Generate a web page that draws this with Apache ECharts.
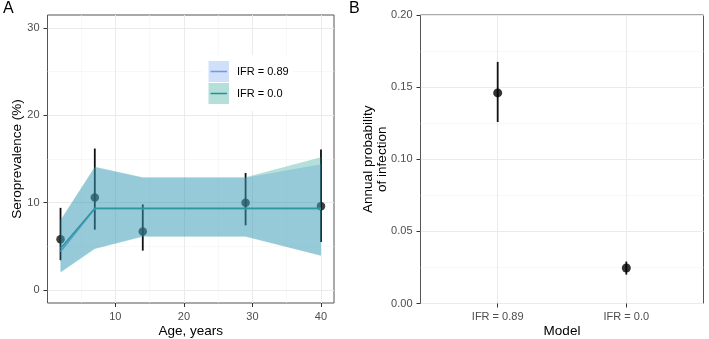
<!DOCTYPE html>
<html>
<head>
<meta charset="utf-8">
<script src="https://cdn.jsdelivr.net/npm/echarts@6/dist/echarts.min.js"></script>
<style>
  html, body { margin: 0; padding: 0; background: #fff; }
  #chart { width: 709px; height: 339px; }
</style>
</head>
<body>
<div id="chart"></div>
<script>
// panel A: observed seroprevalence by age
const ageYears = [2, 7, 14, 29, 40]
const obsPrev = [5.8, 10.6, 6.7, 10.0, 9.6]
const obsLow = [3.4, 6.9, 4.5, 7.4, 5.5]
const obsHigh = [9.4, 16.2, 9.8, 13.4, 16.1]

// model fits
const fit89 = [4.4, 9.3, 9.3, 9.3, 9.3]
const fit89Low = [2.05, 4.75, 6.15, 6.15, 3.95]
const fit89High = [7.95, 14.05, 12.85, 12.85, 14.4]
const fit00 = [4.75, 9.35, 9.35, 9.35, 9.35]
const fit00Low = [2.0, 4.7, 6.1, 6.1, 3.9]
const fit00High = [8.0, 14.1, 12.9, 12.9, 15.2]

const ageTicks = [10, 20, 30, 40]
const ageMinor = [5, 15, 25, 35]
const prevTicks = [0, 10, 20, 30]
const prevMinor = [5, 15, 25]

// panel B: annual probability of infection
const models = ['IFR = 0.89', 'IFR = 0.0']
const annualProb = [0.146, 0.0246]
const probLow = [0.1258, 0.020]
const probHigh = [0.1675, 0.0291]

const FONT = '"Liberation Sans", Arial, sans-serif'
const GRID_MAJOR = '#ebebeb'
const GRID_MINOR = '#f4f4f4'
const BLUE = '#6f9be3'
const TEAL = '#22948a'
const BLUE_FILL = 'rgba(100,149,237,0.3)'
const TEAL_FILL = 'rgba(31,158,147,0.33)'

const chart = echarts.init(document.getElementById('chart'), null, { renderer: 'canvas' })

function bandItem(lo, hi, fill) {
  return function (params, api) {
    if (params.dataIndex !== 0) return null
    const pts = []
    ageYears.forEach((a, i) => pts.push(api.coord([a, lo[i]])))
    for (let i = ageYears.length - 1; i >= 0; i--) pts.push(api.coord([ageYears[i], hi[i]]))
    return { type: 'polygon', shape: { points: pts }, style: { fill: fill } }
  }
}

function errItem(params, api) {
  const x = api.value(0)
  const a = api.coord([x, api.value(1)])
  const b = api.coord([x, api.value(2)])
  return {
    type: 'line',
    shape: { x1: a[0], y1: a[1], x2: b[0], y2: b[1] },
    style: { stroke: '#111', lineWidth: 1.8 }
  }
}

function gridLines(axis, values, color, width) {
  return values.map(v => ({ [axis]: v, lineStyle: { color: color, width: width, type: 'solid' } }))
}

const axisTickStyle = { show: true, length: 4, lineStyle: { color: '#333', width: 1 } }
const hiddenLine = { show: false, onZero: false }
const xLabel = { color: '#4d4d4d', fontSize: 11, fontFamily: FONT, margin: 8 }
const yLabel = { color: '#4d4d4d', fontSize: 11, fontFamily: FONT, margin: 8 }
const nameStyle = { color: '#000', fontSize: 13.5, fontFamily: FONT }

chart.setOption({
  animation: false,
  textStyle: { fontFamily: FONT },
  grid: [
    { left: 47.5, top: 15, width: 286.5, height: 288, outerBoundsMode: 'none', containLabel: false, show: true, borderColor: '#555', borderWidth: 1, backgroundColor: 'transparent' },
    { left: 420.5, top: 15, width: 283, height: 288.5, outerBoundsMode: 'none', containLabel: false, show: true, borderColor: '#555', borderWidth: 1, backgroundColor: 'transparent' }
  ],
  xAxis: [
    {
      gridIndex: 0, type: 'value', min: 0.1, max: 41.9,
      axisLine: hiddenLine, splitLine: { show: false },
      axisTick: Object.assign({ customValues: ageTicks }, axisTickStyle),
      axisLabel: Object.assign({ customValues: ageTicks }, xLabel),
      name: 'Age, years', nameLocation: 'middle', nameGap: 21, nameMoveOverlap: false, nameTextStyle: nameStyle
    },
    {
      gridIndex: 1, type: 'value', min: 0.4, max: 2.6,
      axisLine: hiddenLine, splitLine: { show: false },
      axisTick: Object.assign({ customValues: [1, 2] }, axisTickStyle),
      axisLabel: Object.assign({ customValues: [1, 2], formatter: v => models[Math.round(v) - 1] }, xLabel),
      name: 'Model', nameLocation: 'middle', nameGap: 21, nameMoveOverlap: false, nameTextStyle: nameStyle
    }
  ],
  yAxis: [
    {
      gridIndex: 0, type: 'value', min: -1.5, max: 31.5,
      axisLine: hiddenLine, splitLine: { show: false },
      axisTick: Object.assign({ customValues: prevTicks }, axisTickStyle),
      axisLabel: Object.assign({ customValues: prevTicks }, yLabel),
      name: 'Seroprevalence (%)', nameLocation: 'middle', nameGap: 23, nameMoveOverlap: false, nameTextStyle: nameStyle
    },
    {
      gridIndex: 1, type: 'value', min: 0, max: 0.2, interval: 0.05,
      axisLine: hiddenLine,
      splitLine: { show: true, lineStyle: { color: GRID_MAJOR, width: 1 } },
      minorTick: { show: false, splitNumber: 2 },
      minorSplitLine: { show: true, lineStyle: { color: GRID_MINOR, width: 0.6 } },
      axisTick: axisTickStyle,
      axisLabel: Object.assign({ formatter: v => v.toFixed(2) }, yLabel),
      name: 'Annual probability\nof infection', nameLocation: 'middle', nameGap: 31, nameMoveOverlap: false,
      nameTextStyle: Object.assign({ lineHeight: 14 }, nameStyle)
    }
  ],
  series: [
    // grid lines, panel A
    {
      type: 'line', xAxisIndex: 0, yAxisIndex: 0, data: [], z: 0, silent: true,
      markLine: {
        z: 0, silent: true, symbol: 'none', label: { show: false }, animation: false,
        data: [].concat(
          gridLines('xAxis', ageMinor, GRID_MINOR, 0.6),
          gridLines('yAxis', prevMinor, GRID_MINOR, 0.6),
          gridLines('xAxis', ageTicks, GRID_MAJOR, 1),
          gridLines('yAxis', prevTicks, GRID_MAJOR, 1)
        )
      }
    },
    // grid lines, panel B (x)
    {
      type: 'line', xAxisIndex: 1, yAxisIndex: 1, data: [], z: 0, silent: true,
      markLine: {
        z: 0, silent: true, symbol: 'none', label: { show: false }, animation: false,
        data: gridLines('xAxis', [1, 2], GRID_MAJOR, 1)
      }
    },
    // observed error bars and points
    {
      type: 'custom', xAxisIndex: 0, yAxisIndex: 0, z: 1,
      renderItem: errItem,
      encode: { x: 0, y: [1, 2] },
      data: ageYears.map((a, i) => [a, obsLow[i], obsHigh[i]])
    },
    {
      type: 'scatter', xAxisIndex: 0, yAxisIndex: 0, z: 1,
      symbolSize: 8.5, itemStyle: { color: '#111' },
      data: ageYears.map((a, i) => [a, obsPrev[i]])
    },
    // fitted lines
    {
      type: 'line', name: 'IFR = 0.89', xAxisIndex: 0, yAxisIndex: 0, z: 2,
      showSymbol: false, lineStyle: { color: BLUE, width: 1.5 },
      data: ageYears.map((a, i) => [a, fit89[i]])
    },
    {
      type: 'line', name: 'IFR = 0.0', xAxisIndex: 0, yAxisIndex: 0, z: 2,
      showSymbol: false, lineStyle: { color: TEAL, width: 1.5 },
      data: ageYears.map((a, i) => [a, fit00[i]])
    },
    // credible bands
    {
      type: 'custom', xAxisIndex: 0, yAxisIndex: 0, z: 3, silent: true,
      renderItem: bandItem(fit89Low, fit89High, BLUE_FILL),
      data: ageYears.map((a, i) => [a, fit89Low[i], fit89High[i]])
    },
    {
      type: 'custom', xAxisIndex: 0, yAxisIndex: 0, z: 3, silent: true,
      renderItem: bandItem(fit00Low, fit00High, TEAL_FILL),
      data: ageYears.map((a, i) => [a, fit00Low[i], fit00High[i]])
    },
    // panel B
    {
      type: 'custom', xAxisIndex: 1, yAxisIndex: 1, z: 1,
      renderItem: errItem,
      encode: { x: 0, y: [1, 2] },
      data: models.map((m, i) => [i + 1, probLow[i], probHigh[i]])
    },
    {
      type: 'scatter', xAxisIndex: 1, yAxisIndex: 1, z: 2,
      symbolSize: 9, itemStyle: { color: '#000' },
      data: models.map((m, i) => [i + 1, annualProb[i]])
    }
  ],
  graphic: [
    { type: 'text', left: 3, top: 1, style: { text: 'A', fontSize: 16, fontFamily: FONT, fill: '#000' } },
    { type: 'text', left: 349, top: 1, style: { text: 'B', fontSize: 16, fontFamily: FONT, fill: '#000' } },
    // legend (panel A)
    { type: 'rect', z: 100, shape: { x: 202, y: 55, width: 91, height: 56 }, style: { fill: '#fff' } },
    { type: 'rect', z: 101, shape: { x: 208.5, y: 61, width: 20.5, height: 21 }, style: { fill: BLUE_FILL } },
    { type: 'line', z: 102, shape: { x1: 210.5, y1: 71.5, x2: 227, y2: 71.5 }, style: { stroke: BLUE, lineWidth: 1.5 } },
    { type: 'rect', z: 101, shape: { x: 208.5, y: 83, width: 20.5, height: 21 }, style: { fill: TEAL_FILL } },
    { type: 'line', z: 102, shape: { x1: 210.5, y1: 93.5, x2: 227, y2: 93.5 }, style: { stroke: TEAL, lineWidth: 1.5 } },
    { type: 'text', z: 102, x: 237, y: 71.5, style: { text: models[0], fontSize: 11, fontFamily: FONT, fill: '#000', verticalAlign: 'middle' } },
    { type: 'text', z: 102, x: 237, y: 93.5, style: { text: models[1], fontSize: 11, fontFamily: FONT, fill: '#000', verticalAlign: 'middle' } }
  ]
})
</script>
</body>
</html>
